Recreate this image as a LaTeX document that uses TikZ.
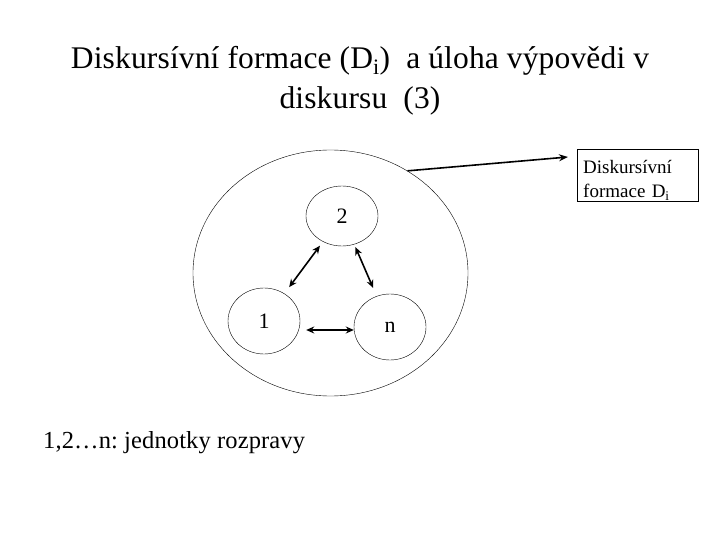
\documentclass[tikz,border=0pt]{standalone}
\usepackage{fontspec}
\setmainfont{Liberation Serif}
\usetikzlibrary{arrows.meta,positioning,shapes.geometric}
\tikzset{
  unit/.style={draw, ellipse, thin, minimum width=72pt, minimum height=66pt,
               font=\fontsize{22}{26}\selectfont},
  link/.style={{Stealth[length=8pt,width=7pt]}-{Stealth[length=8pt,width=7pt]},
               line width=1.6pt},
  pointer/.style={-{Stealth[length=9pt,width=7pt]}, line width=1.6pt},
}

\begin{document}
\begin{tikzpicture}[x=1pt,y=-1pt]
  \useasboundingbox (0,0) rectangle (720,540);

  % nadpis
  \node (title) [align=center, anchor=north,
    font=\fontsize{31.5}{40}\selectfont\addfontfeatures{LetterSpace=0.5}] at (360,43)
    {Diskursívní formace (D\textsubscript{i})\ \ a úloha výpovědi v\\ diskursu\ \ (3)};

  % formace a jednotky
  \node (form) [draw, ellipse, thin, minimum width=275pt, minimum height=246pt] at (330.5,273) {};
  \node (two) [unit, minimum height=60pt] at (342,216) {2};
  \node (one) [unit] at (264,321) {1};
  \node (n) [unit] at (390,327) {n};

  \draw[link, shorten <=5pt, shorten >=8pt] (two) -- (one);
  \draw[link, shorten <=3pt, shorten >=9pt] (two) -- (n);
  \draw[link, shorten <=6pt] ([yshift=-9pt]one.east) -- ([yshift=-3pt]n.west);

  % popisek
  \node (box) [draw, thin, align=left, text width=109pt, inner xsep=6pt, inner ysep=0pt,
    minimum height=52pt, anchor=north west,
    font=\fontsize{19}{24}\selectfont] at (577,149)
    {\rule{0pt}{23.5pt}Diskursívní\\ formace D\textsubscript{i}\rule[-3.5pt]{0pt}{3.5pt}};
  \draw[pointer] (form.53) -- ([xshift=-9pt,yshift=-8pt]box.north west);

  \node (legend) [anchor=base west, inner sep=0pt,
    font=\fontsize{24.5}{28}\selectfont\addfontfeatures{LetterSpace=0.5}] at (43,448)
    {1,2…n:\ jednotky rozpravy};
\end{tikzpicture}
\end{document}
